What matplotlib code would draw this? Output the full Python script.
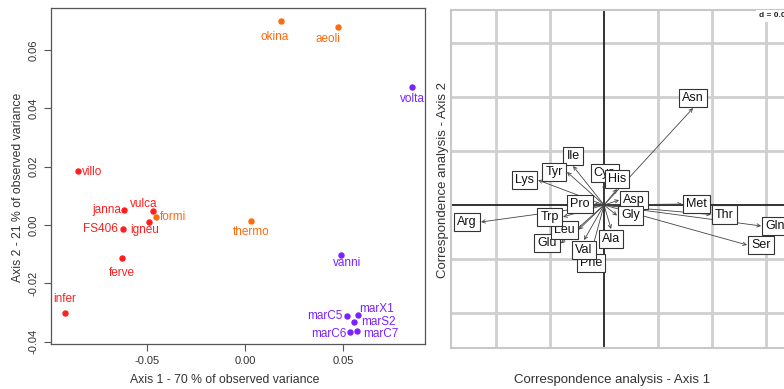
import matplotlib
matplotlib.use("Agg")
import matplotlib.pyplot as plt
import numpy as np

plt.rcParams["font.family"] = ["Liberation Sans", "DejaVu Sans"]

# ---------------------------------------------------------------------------
# Left panel: species scores on the first two CA axes
# ---------------------------------------------------------------------------
species = ["okina", "aeoli", "volta", "villo", "janna", "vulca", "formi",
           "igneu", "FS406", "ferve", "infer", "thermo", "vanni",
           "marC5", "marX1", "marS2", "marC6", "marC7"]
axis1 = [0.0184, 0.0473, 0.0852, -0.0854, -0.0616, -0.0468, -0.0456,
         -0.0490, -0.0621, -0.0628, -0.0918, 0.0029, 0.0488,
         0.0519, 0.0578, 0.0558, 0.0536, 0.0573]
axis2 = [0.0701, 0.0680, 0.0474, 0.0186, 0.0051, 0.0049, 0.0026,
         0.0010, -0.0015, -0.0112, -0.0300, 0.0013, -0.0103,
         -0.0311, -0.0309, -0.0332, -0.0366, -0.0362]
group = ["orange", "orange", "purple", "red", "red", "red", "orange",
         "red", "red", "red", "red", "orange", "purple",
         "purple", "purple", "purple", "purple", "purple"]

group_colors = {"red": "#FF1E1E", "orange": "#FF6A0A", "purple": "#7A22FF"}

# label centre offsets from the point, in pixels (x right, y down)
label_off = [(-6, 16), (-10, 12), (0, 12), (14, 1), (-18, 0), (-10, -7),
             (17, 0), (-4, 8), (-23, 0), (0, 15), (0, -14), (0, 11), (6, 8),
             (-22, 0), (18, -6), (24, 0), (-21, 2), (23, 3)]

# ---------------------------------------------------------------------------
# Right panel: amino-acid arrows (alphabetical row order)
# ---------------------------------------------------------------------------
amino = ["Ala", "Arg", "Asn", "Asp", "Cys", "Gln", "Glu", "Gly", "His", "Ile",
         "Leu", "Lys", "Met", "Phe", "Pro", "Ser", "Thr", "Trp", "Tyr", "Val"]
ca1 = [0.0065, -0.1139, 0.0824, 0.0139, 0.0005, 0.1454, -0.0400, 0.0120,
       0.0120, -0.0287, -0.0235, -0.0611, 0.0722, -0.0120, -0.0093, 0.1324,
       0.0990, -0.0380, -0.0343, -0.0185]
ca2 = [-0.0222, -0.0157, 0.0898, 0.0046, 0.0204, -0.0194, -0.0355, -0.0097,
       0.0148, 0.0361, -0.0228, 0.0231, 0.0009, -0.0444, 0.0009, -0.0370,
       -0.0088, -0.0110, 0.0306, -0.0324]
grid_step = 0.05

W, H = 784, 389
fig = plt.figure(figsize=(W / 100, H / 100), dpi=100)


def px_axes(left, top, right, bottom):
    return fig.add_axes([left / W, (H - bottom) / H, (right - left) / W, (bottom - top) / H])


# ---- left -----------------------------------------------------------------
ax1 = px_axes(51, 8, 425, 344)
for name, x, y, g, (ox, oy) in zip(species, axis1, axis2, group, label_off):
    c = group_colors[g]
    ax1.plot(x, y, "o", ms=3.6, color=c, mec=c)
    ax1.annotate(name, (x, y), xytext=(ox * 0.72, -oy * 0.72),
                 textcoords="offset points", ha="center", va="center",
                 color=c, fontsize=8.5)

ax1.set_xlim(-0.099, 0.0918)
ax1.set_ylim(-0.0408, 0.0744)
ax1.set_xticks([-0.05, 0.0, 0.05])
ax1.set_xticklabels(["-0.05", "0.00", "0.05"])
ax1.set_yticks([-0.04, -0.02, 0.0, 0.02, 0.04, 0.06])
ax1.set_yticklabels(["-0.04", "-0.02", "0.00", "0.02", "0.04", "0.06"],
                    rotation=90, va="center")
ax1.tick_params(direction="out", length=5, width=0.8, color="#555555",
                labelsize=8, labelcolor="#333333", pad=4)
for s in ax1.spines.values():
    s.set_color("#555555")
    s.set_linewidth(0.9)
fig.text(225 / W, 1 - 380 / H, "Axis 1 - 70 % of observed variance",
         ha="center", va="center", fontsize=8.8, color="#333333")
fig.text(18 / W, 1 - 187 / H, "Axis 2 - 21 % of observed variance",
         ha="center", va="center", rotation=90, fontsize=8.8, color="#333333")

# ---- right ----------------------------------------------------------------
ax2 = px_axes(451, 10, 792, 348)
xmin, xmax, ymin, ymax = -0.1417, 0.174, -0.1324, 0.1806
ax2.set_xlim(xmin, xmax)
ax2.set_ylim(ymin, ymax)
gx = np.arange(np.ceil(xmin / grid_step), np.floor(xmax / grid_step) + 1) * grid_step
gy = np.arange(np.ceil(ymin / grid_step), np.floor(ymax / grid_step) + 1) * grid_step
for v in gx:
    if abs(v) > 1e-9:
        ax2.axvline(v, color="#cfcfcf", lw=2, zorder=0)
for v in gy:
    if abs(v) > 1e-9:
        ax2.axhline(v, color="#cfcfcf", lw=2, zorder=0)
ax2.axvline(0, color="#222222", lw=1.3, zorder=1)
ax2.axhline(0, color="#222222", lw=1.3, zorder=1)
ax2.set_xticks([])
ax2.set_yticks([])
for s in ax2.spines.values():
    s.set_color("#c8c8c8")
    s.set_linewidth(1.5)

for x, y in zip(ca1, ca2):
    ax2.annotate("", xy=(x, y), xytext=(0, 0),
                 arrowprops=dict(arrowstyle="->", lw=0.6, color="#444444",
                                 shrinkA=0, shrinkB=0, mutation_scale=6),
                 zorder=2)

for name, x, y in zip(amino, ca1, ca2):
    # label placement as in ade4 scatterutil.eti.circ
    if x > y and x > -y:
        ha, va, off = "left", "center", (3, 0)
    elif x > y:
        ha, va, off = "center", "top", (0, -3)
    elif x <= -y:
        ha, va, off = "right", "center", (-3, 0)
    else:
        ha, va, off = "center", "bottom", (0, 3)
    ax2.annotate(name, (x, y), xytext=off, textcoords="offset points",
                 ha=ha, va=va, fontsize=9, color="#111111", zorder=3,
                 bbox=dict(boxstyle="square,pad=0.25", fc="white",
                           ec="#333333", lw=0.8))

ax2.text(xmax - 0.002, ymax - 0.002, "d = 0.05", ha="right", va="top",
         fontsize=6, fontweight="bold", color="#222222", zorder=4,
         bbox=dict(boxstyle="square,pad=0.3", fc="white", ec="none"))

fig.text(612 / W, 1 - 380 / H, "Correspondence analysis - Axis 1",
         ha="center", va="center", fontsize=9.5, color="#333333")
fig.text(443 / W, 1 - 180 / H, "Correspondence analysis - Axis 2",
         ha="center", va="center", rotation=90, fontsize=9.5, color="#333333")

fig.savefig("out.png", dpi=100)
